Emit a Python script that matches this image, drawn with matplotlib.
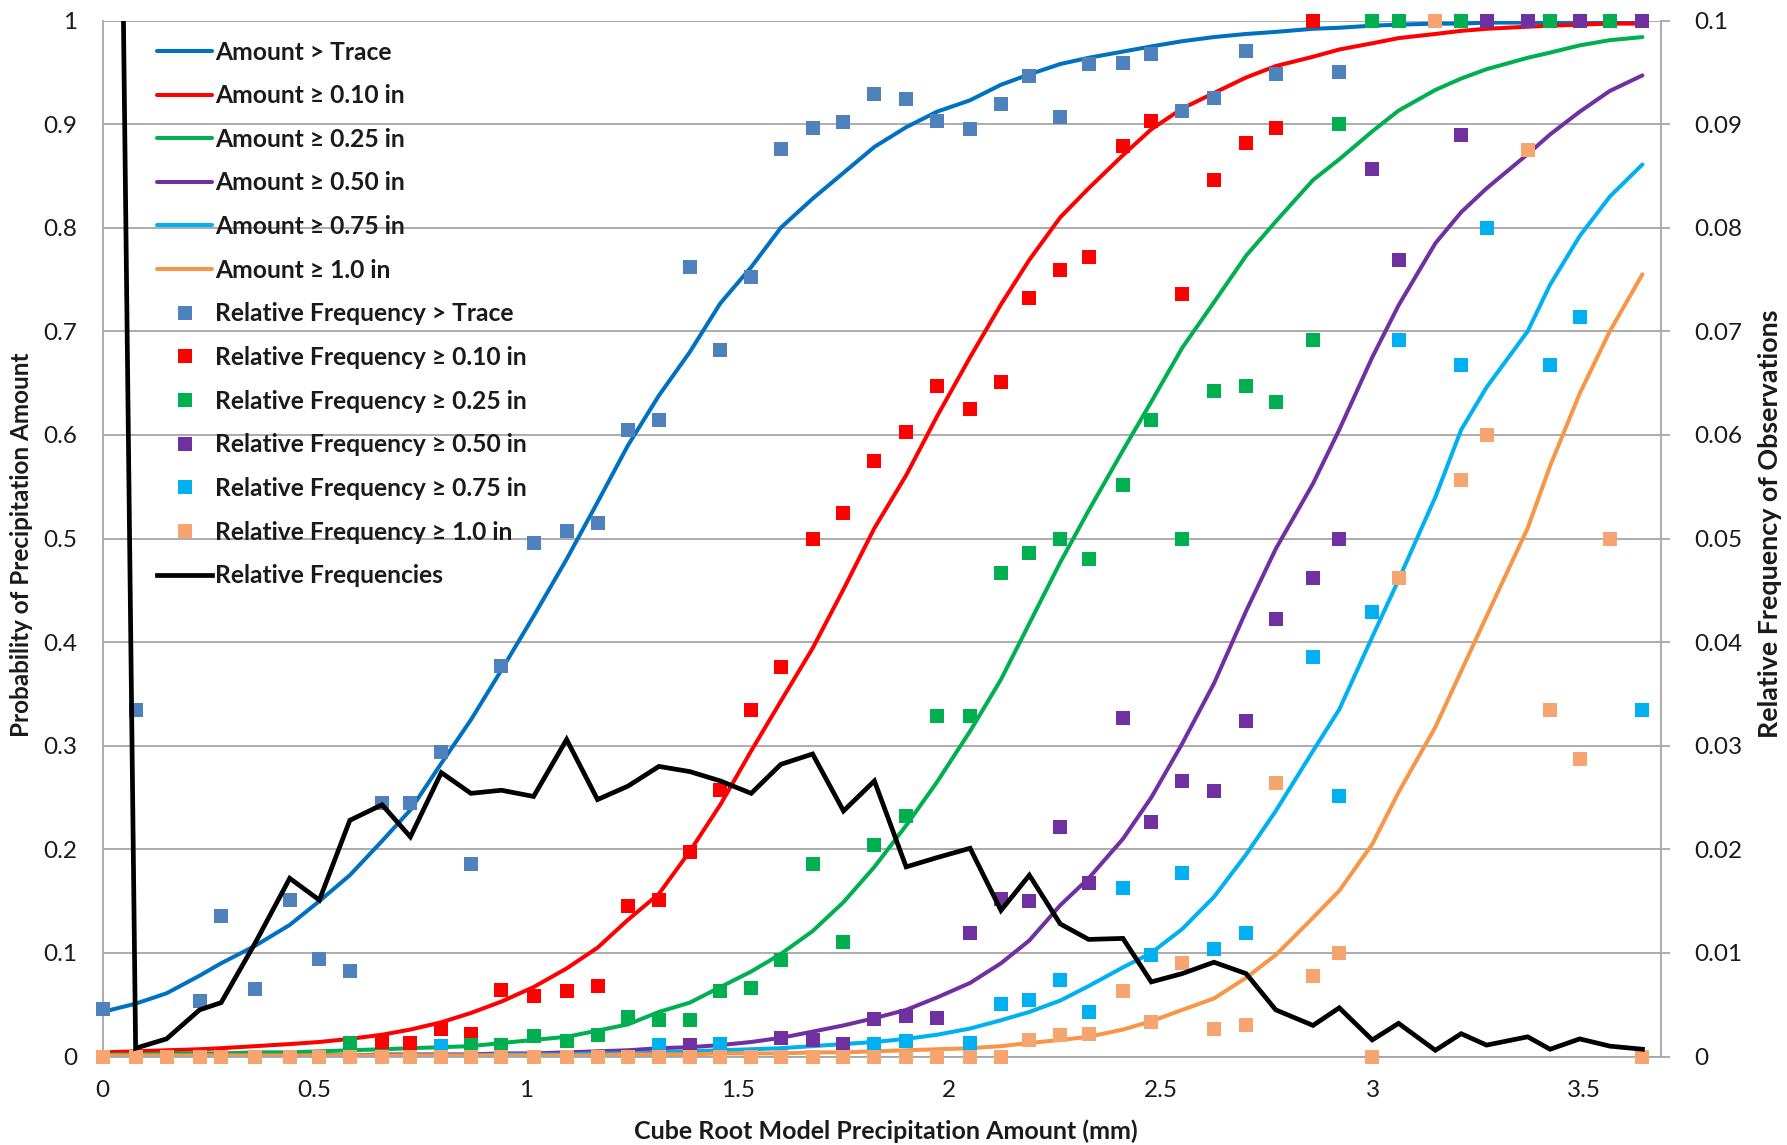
import matplotlib
matplotlib.use('Agg')
import matplotlib.pyplot as plt
from matplotlib.lines import Line2D

plt.rcParams['font.family'] = ['Lato', 'DejaVu Sans']

# ---------------- data ----------------
x = [0.000, 0.078, 0.151, 0.229, 0.280, 0.361, 0.442, 0.512, 0.584, 0.660,
     0.727, 0.800, 0.870, 0.942, 1.018, 1.096, 1.169, 1.241, 1.314, 1.387,
     1.459, 1.532, 1.602, 1.677, 1.750, 1.823, 1.898, 1.971, 2.049, 2.122,
     2.189, 2.262, 2.329, 2.410, 2.477, 2.550, 2.625, 2.701, 2.771, 2.859,
     2.921, 2.999, 3.061, 3.148, 3.209, 3.269, 3.366, 3.419, 3.489, 3.560,
     3.637]

fit_trace = [0.043, 0.051, 0.061, 0.078, 0.090, 0.107, 0.127, 0.150, 0.175, 0.208,
             0.238, 0.283, 0.325, 0.373, 0.425, 0.480, 0.535, 0.590, 0.638, 0.680,
             0.727, 0.762, 0.800, 0.828, 0.853, 0.878, 0.897, 0.912, 0.923, 0.938,
             0.948, 0.958, 0.964, 0.970, 0.975, 0.980, 0.984, 0.987, 0.989, 0.992,
             0.993, 0.995, 0.996, 0.997, 0.997, 0.998, 0.998, 0.998, 0.999, 0.999,
             0.999]
fit_010 = [0.004, 0.005, 0.006, 0.007, 0.008, 0.010, 0.012, 0.014, 0.017, 0.021,
           0.026, 0.033, 0.042, 0.053, 0.067, 0.085, 0.105, 0.132, 0.157, 0.198,
           0.243, 0.295, 0.343, 0.394, 0.451, 0.510, 0.561, 0.618, 0.675, 0.726,
           0.769, 0.810, 0.838, 0.870, 0.895, 0.915, 0.930, 0.945, 0.956, 0.965,
           0.972, 0.978, 0.983, 0.987, 0.990, 0.992, 0.994, 0.995, 0.996, 0.997,
           0.997]
fit_025 = [0.002, 0.002, 0.003, 0.003, 0.003, 0.004, 0.004, 0.005, 0.006, 0.007,
           0.008, 0.009, 0.010, 0.013, 0.016, 0.019, 0.025, 0.031, 0.043, 0.052,
           0.067, 0.082, 0.099, 0.121, 0.149, 0.183, 0.223, 0.265, 0.314, 0.364,
           0.418, 0.477, 0.527, 0.585, 0.632, 0.684, 0.728, 0.773, 0.806, 0.846,
           0.866, 0.893, 0.913, 0.933, 0.944, 0.953, 0.964, 0.969, 0.976, 0.981,
           0.984]
fit_050 = [0.001, 0.001, 0.001, 0.001, 0.001, 0.001, 0.001, 0.001, 0.001, 0.002,
           0.002, 0.002, 0.002, 0.003, 0.003, 0.004, 0.005, 0.006, 0.008, 0.009,
           0.011, 0.014, 0.018, 0.024, 0.030, 0.037, 0.045, 0.057, 0.071, 0.090,
           0.112, 0.146, 0.172, 0.210, 0.250, 0.302, 0.360, 0.430, 0.490, 0.553,
           0.605, 0.675, 0.725, 0.785, 0.815, 0.838, 0.871, 0.890, 0.912, 0.932,
           0.947]
fit_075 = [0.001, 0.001, 0.001, 0.001, 0.001, 0.001, 0.001, 0.001, 0.001, 0.001,
           0.001, 0.001, 0.001, 0.002, 0.002, 0.002, 0.003, 0.003, 0.004, 0.005,
           0.006, 0.007, 0.008, 0.010, 0.012, 0.014, 0.017, 0.021, 0.027, 0.035,
           0.043, 0.054, 0.068, 0.086, 0.100, 0.123, 0.154, 0.195, 0.237, 0.295,
           0.335, 0.405, 0.460, 0.540, 0.605, 0.646, 0.700, 0.745, 0.792, 0.830,
           0.861]
fit_100 = [0.001, 0.001, 0.001, 0.001, 0.001, 0.001, 0.001, 0.001, 0.001, 0.001,
           0.001, 0.001, 0.001, 0.001, 0.001, 0.001, 0.001, 0.002, 0.002, 0.002,
           0.003, 0.003, 0.003, 0.004, 0.004, 0.005, 0.006, 0.007, 0.008, 0.010,
           0.013, 0.016, 0.019, 0.026, 0.034, 0.045, 0.056, 0.076, 0.098, 0.134,
           0.160, 0.205, 0.255, 0.318, 0.372, 0.425, 0.510, 0.570, 0.640, 0.700,
           0.755]

obs_trace = [0.046, 0.334, 0.000, 0.054, 0.136, 0.065, 0.151, 0.094, 0.083, 0.245,
             0.245, 0.294, 0.186, 0.377, 0.496, 0.507, 0.515, 0.605, 0.614, 0.762,
             0.682, 0.752, 0.876, 0.896, 0.902, 0.929, 0.924, 0.903, 0.895, 0.919,
             0.946, 0.907, 0.958, 0.959, 0.968, 0.913, 0.925, 0.971, 0.948, 1.000,
             0.950, 1.000, 1.000, 1.000, 1.000, 1.000, 1.000, 1.000, 1.000, 1.000,
             1.000]
obs_010 = [0.000, 0.000, 0.000, 0.000, 0.000, 0.000, 0.000, 0.000, 0.000, 0.014,
           0.013, 0.027, 0.022, 0.064, 0.058, 0.063, 0.068, 0.145, 0.151, 0.197,
           0.257, 0.334, 0.376, 0.500, 0.525, 0.575, 0.603, 0.647, 0.625, 0.651,
           0.732, 0.759, 0.772, 0.879, 0.903, 0.736, 0.846, 0.882, 0.896, 1.000,
           0.900, 1.000, 1.000, 1.000, 1.000, 1.000, 1.000, 1.000, 1.000, 1.000,
           1.000]
obs_025 = [0.000, 0.000, 0.000, 0.000, 0.000, 0.000, 0.000, 0.000, 0.013, 0.000,
           0.000, 0.010, 0.011, 0.011, 0.020, 0.015, 0.021, 0.038, 0.035, 0.035,
           0.063, 0.066, 0.093, 0.186, 0.111, 0.204, 0.232, 0.329, 0.329, 0.467,
           0.486, 0.500, 0.480, 0.552, 0.614, 0.500, 0.642, 0.647, 0.632, 0.692,
           0.900, 1.000, 1.000, 1.000, 1.000, 1.000, 1.000, 1.000, 1.000, 1.000,
           1.000]
obs_050 = [0.000, 0.000, 0.000, 0.000, 0.000, 0.000, 0.000, 0.000, 0.000, 0.000,
           0.000, 0.000, 0.000, 0.000, 0.000, 0.000, 0.000, 0.000, 0.000, 0.011,
           0.000, 0.000, 0.018, 0.016, 0.012, 0.036, 0.039, 0.037, 0.119, 0.152,
           0.150, 0.222, 0.167, 0.327, 0.226, 0.266, 0.256, 0.324, 0.422, 0.462,
           0.500, 0.857, 0.769, 1.000, 0.889, 1.000, 1.000, 0.667, 1.000, 0.500,
           1.000]
obs_075 = [0.000, 0.000, 0.000, 0.000, 0.000, 0.000, 0.000, 0.000, 0.000, 0.000,
           0.000, 0.010, 0.000, 0.000, 0.000, 0.000, 0.000, 0.000, 0.011, 0.000,
           0.012, 0.000, 0.000, 0.000, 0.000, 0.012, 0.0145, 0.000, 0.013, 0.051,
           0.055, 0.074, 0.0425, 0.163, 0.098, 0.177, 0.104, 0.119, 0.264, 0.386,
           0.251, 0.429, 0.692, 1.000, 0.667, 0.800, 0.875, 0.667, 0.714, 0.500,
           0.334]
obs_100 = [0.000, 0.000, 0.000, 0.000, 0.000, 0.000, 0.000, 0.000, 0.000, 0.000,
           0.000, 0.000, 0.000, 0.000, 0.000, 0.000, 0.000, 0.000, 0.000, 0.000,
           0.000, 0.000, 0.000, 0.000, 0.000, 0.000, 0.000, 0.000, 0.000, 0.000,
           0.016, 0.021, 0.022, 0.063, 0.033, 0.090, 0.0265, 0.030, 0.264, 0.078,
           0.100, 0.000, 0.462, 1.000, 0.556, 0.600, 0.875, 0.334, 0.287, 0.500,
           0.000]

rel_freq = [0.270, 0.0008, 0.0017, 0.0045, 0.0052, 0.0110, 0.0172, 0.0151, 0.0228, 0.0243,
            0.0212, 0.0274, 0.0254, 0.0257, 0.0251, 0.0306, 0.0248, 0.0261, 0.0280, 0.0275,
            0.0266, 0.0254, 0.0282, 0.0292, 0.0237, 0.0266, 0.0183, 0.0192, 0.0201, 0.0141,
            0.0175, 0.0128, 0.0113, 0.0114, 0.0072, 0.0080, 0.0091, 0.0080, 0.0045, 0.0030,
            0.0047, 0.0016, 0.0032, 0.0006, 0.0022, 0.0011, 0.0019, 0.0007, 0.0017, 0.0010,
            0.0007]

fit_labels = ['Amount > Trace', 'Amount \u2265 0.10 in', 'Amount \u2265 0.25 in',
              'Amount \u2265 0.50 in', 'Amount \u2265 0.75 in', 'Amount \u2265 1.0 in']
obs_labels = ['Relative Frequency > Trace', 'Relative Frequency \u2265 0.10 in',
              'Relative Frequency \u2265 0.25 in', 'Relative Frequency \u2265 0.50 in',
              'Relative Frequency \u2265 0.75 in', 'Relative Frequency \u2265 1.0 in']
freq_label = 'Relative Frequencies'

left_ticks = [0, 0.1, 0.2, 0.3, 0.4, 0.5, 0.6, 0.7, 0.8, 0.9, 1]
left_ticklabels = ['0', '0.1', '0.2', '0.3', '0.4', '0.5', '0.6', '0.7', '0.8', '0.9', '1']
right_ticks = [0, 0.01, 0.02, 0.03, 0.04, 0.05, 0.06, 0.07, 0.08, 0.09, 0.1]
right_ticklabels = ['0', '0.01', '0.02', '0.03', '0.04', '0.05', '0.06', '0.07', '0.08', '0.09', '0.1']
x_ticks = [0, 0.5, 1, 1.5, 2, 2.5, 3, 3.5]
x_ticklabels = ['0', '0.5', '1', '1.5', '2', '2.5', '3', '3.5']

# ---------------- styling ----------------
line_colors = ['#0070C0', '#FF0000', '#00B050', '#7030A0', '#00B0F0', '#F79646']
marker_colors = ['#4F81BD', '#FF0000', '#00B050', '#7030A0', '#00B0F0', '#F7A570']
grid_col = '#A6A6A6'
txt_col = '#1A1A1A'

W, H = 1787, 1145
fig = plt.figure(figsize=(W / 100, H / 100), dpi=100)
ax_l, ax_r, ax_t, ax_b = 102.6, 1660.6, 20.5, 1056.5
ax = fig.add_axes([ax_l / W, 1 - ax_b / H, (ax_r - ax_l) / W, (ax_b - ax_t) / H])
ax2 = ax.twinx()

fits = [fit_trace, fit_010, fit_025, fit_050, fit_075, fit_100]
obss = [obs_trace, obs_010, obs_025, obs_050, obs_075, obs_100]

for f, c in zip(fits, line_colors):
    ax.plot(x, f, color=c, lw=2.9, solid_capstyle='round', zorder=2)
for o, c in zip(obss, marker_colors):
    ax.plot(x, o, linestyle='none', marker='s', ms=10.5, mew=0, color=c,
            clip_on=False, zorder=3)
ax2.plot(x, rel_freq, color='black', lw=3.4, solid_joinstyle='miter', zorder=4)

ax.set_xlim(0, 3.68)
ax.set_ylim(0, 1)
ax2.set_ylim(0, 0.1)

ax.set_yticks(left_ticks)
ax.set_yticklabels(left_ticklabels)
ax2.set_yticks(right_ticks)
ax2.set_yticklabels(right_ticklabels)
ax.set_xticks(x_ticks)
ax.set_xticklabels(x_ticklabels)

ax.yaxis.grid(True, color=grid_col, lw=1.3)
ax.set_axisbelow(True)

for a in (ax, ax2):
    for s in a.spines.values():
        s.set_visible(False)
ax.spines['left'].set_visible(True)
ax.spines['bottom'].set_visible(True)
ax2.spines['right'].set_visible(True)
for s in (ax.spines['left'], ax.spines['bottom'], ax2.spines['right']):
    s.set_color(grid_col)
    s.set_linewidth(1.3)

ax.tick_params(axis='y', length=0, pad=18, labelsize=17.5, labelcolor=txt_col)
ax.tick_params(axis='x', length=0, pad=17, labelsize=17.5, labelcolor=txt_col)
ax2.tick_params(axis='y', length=6.5, width=1.3, color=grid_col, pad=18,
                labelsize=17.5, labelcolor=txt_col)

# axis titles
fig.text(21.5 / W, 1 - 545 / H, 'Probability of Precipitation Amount', rotation=90,
         ha='center', va='center', fontsize=17.5, fontweight='bold', color=txt_col)
fig.text(1770 / W, 1 - 524 / H, 'Relative Frequency of Observations', rotation=90,
         ha='center', va='center', fontsize=19.4, fontweight='bold', color=txt_col)
fig.text(885.5 / W, 1 - 1131.7 / H, 'Cube Root Model Precipitation Amount (mm)',
         ha='center', va='center', fontsize=18, fontweight='bold', color=txt_col)

# legend
handles = []
labels = []
for c, lab in zip(line_colors, fit_labels):
    handles.append(Line2D([], [], color=c, lw=2.9, solid_capstyle='round'))
    labels.append(lab)
for c, lab in zip(marker_colors, obs_labels):
    handles.append(Line2D([], [], linestyle='none', marker='s', ms=10.5, mew=0, color=c))
    labels.append(lab)
handles.append(Line2D([], [], color='black', lw=3.4))
labels.append(freq_label)

fig.legend(handles, labels, loc='upper left', bbox_to_anchor=(157 / W, 1 - 40.5 / H),
           frameon=False, borderpad=0, borderaxespad=0, handlelength=2.25,
           handletextpad=0.12, labelspacing=0.84, numpoints=1,
           prop={'size': 17.7, 'weight': 'bold'}, labelcolor=txt_col)

fig.savefig('out.png', dpi=100)
